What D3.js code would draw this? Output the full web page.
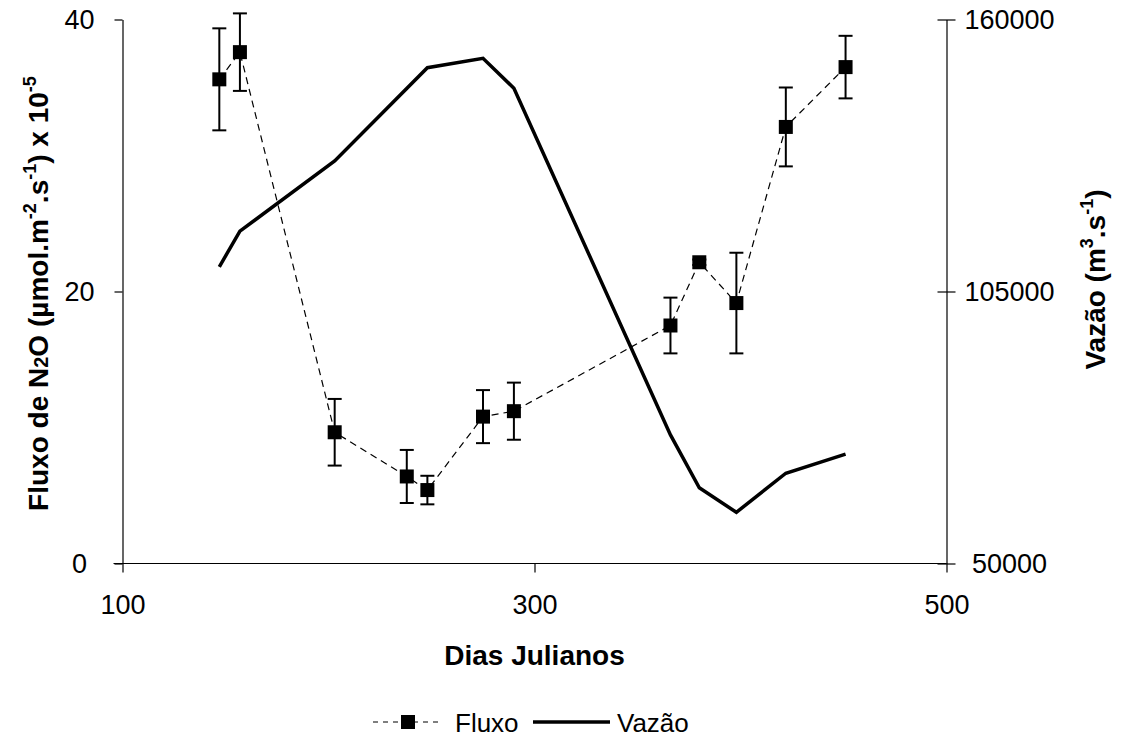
<!DOCTYPE html>
<html>
<head>
<meta charset="utf-8">
<script src="https://cdn.jsdelivr.net/npm/d3@7"></script>
<style>
  html, body { margin: 0; padding: 0; background: #fff; }
  svg { display: block; font-family: "Liberation Sans", Arial, sans-serif; }
</style>
</head>
<body>
<svg id="chart" width="1124" height="739"></svg>
<script>
// Julian days of the N2O flux campaigns
const fluxDays = [147, 157, 203, 238, 248, 275, 290, 366, 380, 398, 422, 451];
// N2O flux (µmol.m-2.s-1 x 10^-5) and its error (±)
const fluxValues = [35.6, 37.6, 9.65, 6.4, 5.4, 10.8, 11.2, 17.5, 22.15, 19.15, 32.1, 36.5];
const fluxErrors = [3.75, 2.85, 2.45, 1.95, 1.05, 1.95, 2.1, 2.05, 0.2, 3.7, 2.9, 2.3];
// River discharge (m3.s-1)
const flowDays = [147, 157, 203, 248, 275, 290, 366, 380, 398, 422, 451];
const flowValues = [110000, 117200, 131400, 150250, 152150, 146100, 76000, 65300, 60350, 68250, 72100];
// Axis ticks
const xTicks = [100, 300, 500];
const yLeftTicks = [0, 20, 40];
const yRightTicks = [50000, 105000, 160000];

const svg = d3.select("#chart");
const plotLeft = 122.5, plotRight = 946.5, plotTop = 19.5, plotBottom = 563.5;

const x = d3.scaleLinear().domain([100, 500]).range([plotLeft, plotRight]);
const yL = d3.scaleLinear().domain([0, 40]).range([plotBottom, plotTop]);
const yR = d3.scaleLinear().domain([50000, 160000]).range([plotBottom, plotTop]);

const tickFont = 27, titleFont = 28, legendFont = 26;

function styleAxis(g) {
  g.select(".domain").attr("stroke", "#000").attr("stroke-width", 1.2);
  g.selectAll(".tick line").attr("stroke", "#000").attr("stroke-width", 1.2);
  g.selectAll(".tick text").attr("fill", "#000")
    .style("font-family", "'Liberation Sans', Arial, sans-serif")
    .style("font-size", tickFont + "px");
}

// Bottom axis
svg.append("g")
  .attr("transform", `translate(0,${plotBottom})`)
  .call(d3.axisBottom(x).tickValues(xTicks).tickSizeInner(9).tickSizeOuter(0).tickPadding(22))
  .call(styleAxis)
  .call(g => g.select(".domain").attr("d", `M${plotLeft - 9},0H${plotRight}`));

// Left axis: labels centred in their column
svg.append("g")
  .attr("transform", `translate(${plotLeft},0)`)
  .call(d3.axisLeft(yL).tickValues(yLeftTicks).tickSizeInner(8).tickSizeOuter(0).tickPadding(35))
  .call(styleAxis)
  .call(g => g.selectAll(".tick text").attr("text-anchor", "middle"));

// Right axis, ticks crossing the line, labels centred in their column
svg.append("g")
  .attr("transform", `translate(${plotRight},0)`)
  .call(d3.axisRight(yR).tickValues(yRightTicks).tickSizeInner(9).tickSizeOuter(0).tickPadding(54).tickFormat(d3.format("d")))
  .call(styleAxis)
  .call(g => g.selectAll(".tick line").attr("x1", -9).attr("x2", 9))
  .call(g => g.selectAll(".tick text").attr("text-anchor", "middle"));

// Discharge line
const flowLine = d3.line().x((d, i) => x(flowDays[i])).y(d => yR(d));
svg.append("path")
  .datum(flowValues)
  .attr("d", flowLine)
  .attr("fill", "none")
  .attr("stroke", "#000")
  .attr("stroke-width", 3.5)
  .attr("stroke-linejoin", "miter");

// Flux dashed line
const fluxLine = d3.line().x((d, i) => x(fluxDays[i])).y(d => yL(d));
svg.append("path")
  .datum(fluxValues)
  .attr("d", fluxLine)
  .attr("fill", "none")
  .attr("stroke", "#000")
  .attr("stroke-width", 1.2)
  .attr("stroke-dasharray", "7,5");

// Error bars
const capHalf = 7;
const eb = svg.append("g").attr("stroke", "#000").attr("stroke-width", 2);
fluxValues.forEach((v, i) => {
  const cx = x(fluxDays[i]);
  const y1 = yL(v + fluxErrors[i]), y2 = yL(v - fluxErrors[i]);
  eb.append("line").attr("x1", cx).attr("x2", cx).attr("y1", y1).attr("y2", y2);
  eb.append("line").attr("x1", cx - capHalf).attr("x2", cx + capHalf).attr("y1", y1).attr("y2", y1);
  eb.append("line").attr("x1", cx - capHalf).attr("x2", cx + capHalf).attr("y1", y2).attr("y2", y2);
});

// Square markers
const ms = 14;
svg.append("g").selectAll("rect")
  .data(fluxValues)
  .join("rect")
  .attr("x", (d, i) => x(fluxDays[i]) - ms / 2)
  .attr("y", d => yL(d) - ms / 2)
  .attr("width", ms)
  .attr("height", ms)
  .attr("fill", "#000");

// Axis titles
const supSize = "18px", supShift = 12;
const leftTitle = svg.append("text")
  .attr("transform", `translate(48,${(plotTop + plotBottom) / 2 + 2}) rotate(-90)`)
  .attr("text-anchor", "middle")
  .style("font-size", titleFont + "px")
  .style("font-weight", "bold");
leftTitle.append("tspan").text("Fluxo de N");
leftTitle.append("tspan").text("2").style("font-size", "20px");
leftTitle.append("tspan").text("O (µmol.m");
leftTitle.append("tspan").text("-2").attr("dy", -supShift).style("font-size", supSize);
leftTitle.append("tspan").text(".s").attr("dy", supShift);
leftTitle.append("tspan").text("-1").attr("dy", -supShift).style("font-size", supSize);
leftTitle.append("tspan").text(") x 10").attr("dy", supShift);
leftTitle.append("tspan").text("-5").attr("dy", -supShift).style("font-size", supSize);

const rightTitle = svg.append("text")
  .attr("transform", `translate(1105,${(plotTop + plotBottom) / 2 - 12}) rotate(-90)`)
  .attr("text-anchor", "middle")
  .style("font-size", titleFont + "px")
  .style("font-weight", "bold");
rightTitle.append("tspan").text("Vazão (m");
rightTitle.append("tspan").text("3").attr("dy", -supShift).style("font-size", supSize);
rightTitle.append("tspan").text(".s").attr("dy", supShift);
rightTitle.append("tspan").text("-1").attr("dy", -supShift).style("font-size", supSize);
rightTitle.append("tspan").text(")").attr("dy", supShift);

svg.append("text")
  .attr("x", (plotLeft + plotRight) / 2)
  .attr("y", 665)
  .attr("text-anchor", "middle")
  .style("font-size", titleFont + "px")
  .style("font-weight", "bold")
  .text("Dias Julianos");

// Legend
const ly = 722;
const lg = svg.append("g");
lg.append("line").attr("x1", 373).attr("x2", 443).attr("y1", ly).attr("y2", ly)
  .attr("stroke", "#000").attr("stroke-width", 1.2).attr("stroke-dasharray", "5,5");
lg.append("rect").attr("x", 408 - ms / 2).attr("y", ly - ms / 2).attr("width", ms).attr("height", ms).attr("fill", "#000");
lg.append("text").attr("x", 455).attr("y", ly + 10).style("font-size", legendFont + "px").text("Fluxo");
lg.append("line").attr("x1", 533).attr("x2", 610).attr("y1", ly).attr("y2", ly)
  .attr("stroke", "#000").attr("stroke-width", 3.5);
lg.append("text").attr("x", 617).attr("y", ly + 10).style("font-size", legendFont + "px").text("Vazão");
</script>
</body>
</html>
